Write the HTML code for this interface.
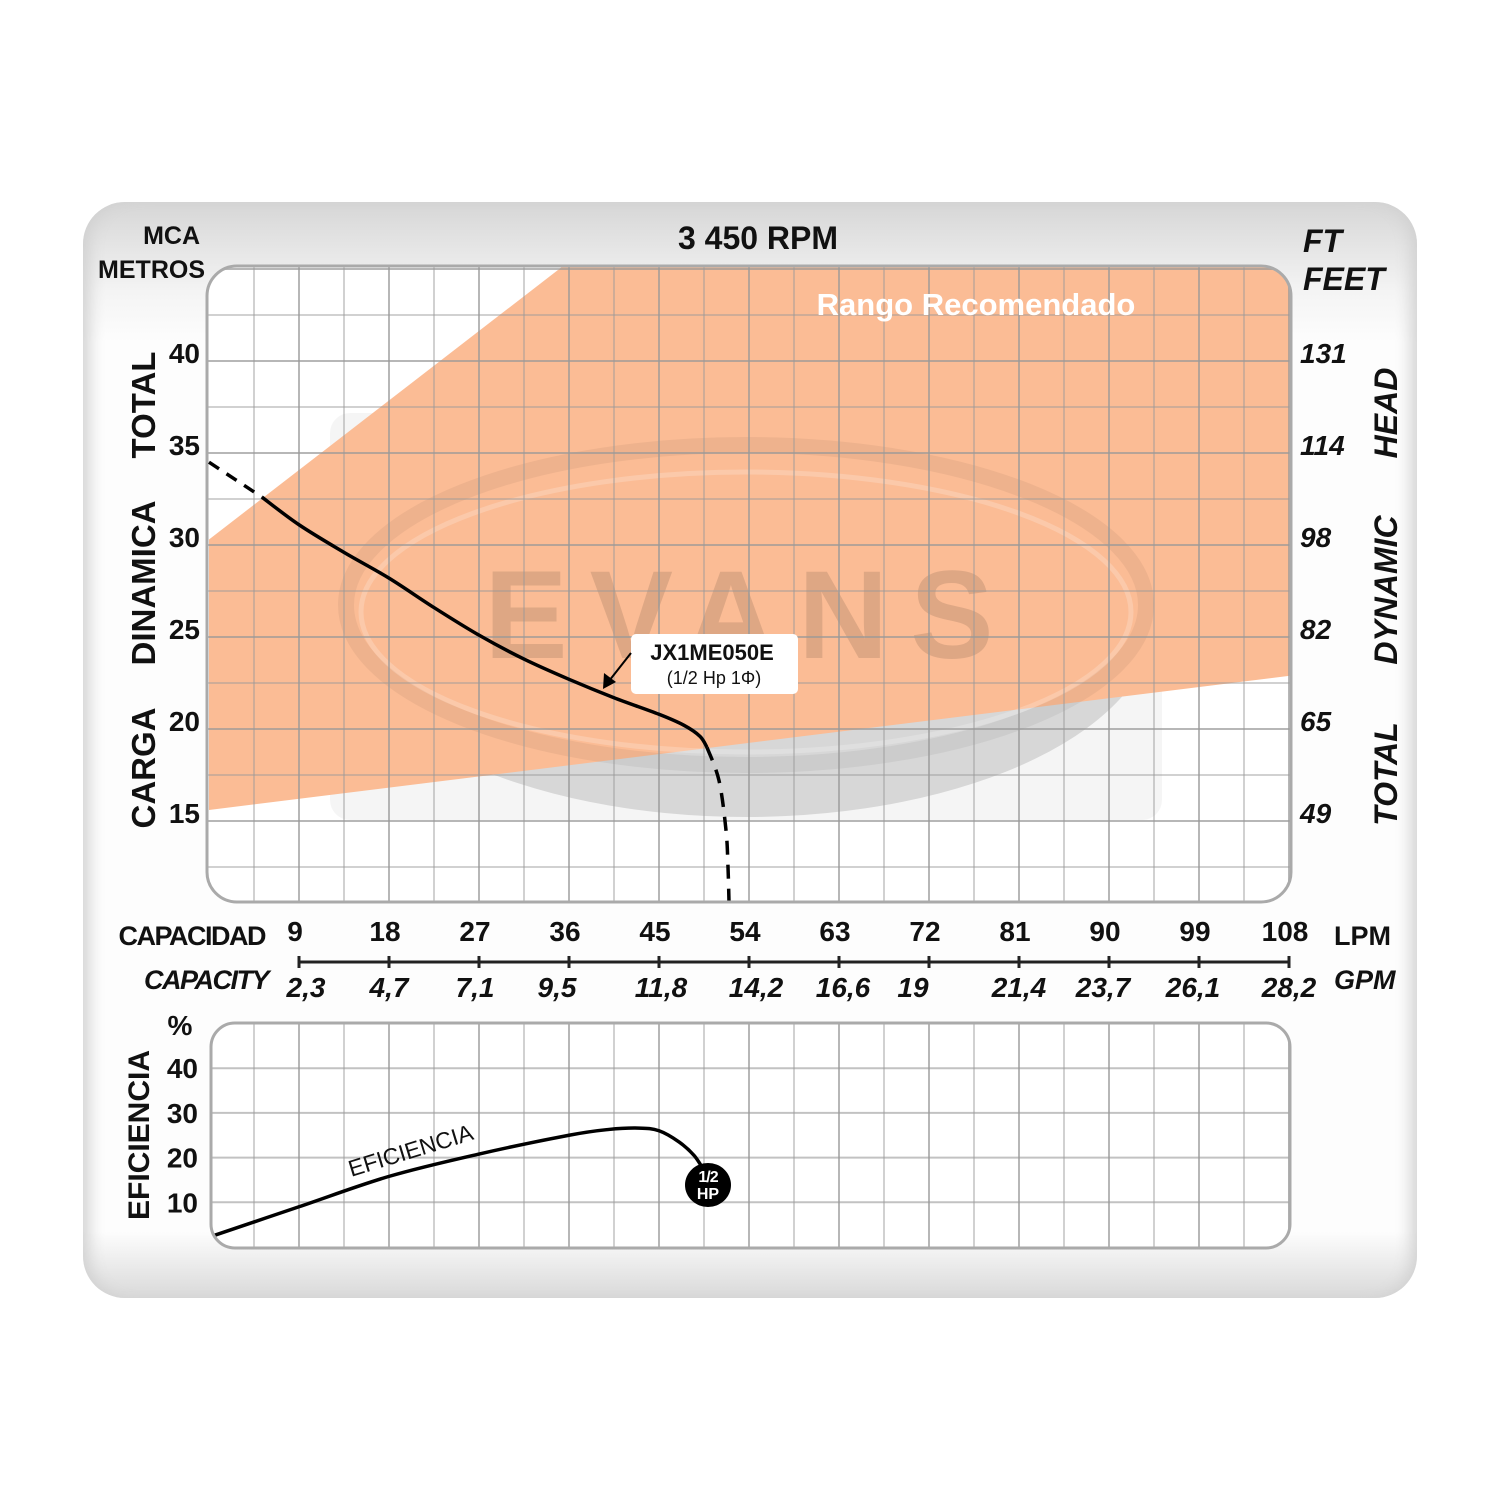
<!DOCTYPE html>
<html><head><meta charset="utf-8">
<style>
html,body{margin:0;padding:0;background:#fff;}
body{width:1500px;height:1500px;position:relative;overflow:hidden;font-family:"Liberation Sans",Arial,sans-serif;}
#panel{position:absolute;left:83px;top:202px;width:1334px;height:1096px;border-radius:42px;background:linear-gradient(#d6d6d6 0px,#f4f4f4 90px,#fdfdfd 140px,#fdfdfd 1030px,#d9d9d9 1096px);box-shadow:inset 14px 0 16px -8px #d0d0d0, inset -14px 0 16px -8px #d0d0d0;}
svg{position:absolute;left:0;top:0;}
text{font-family:"Liberation Sans",Arial,sans-serif;font-weight:bold;fill:#111;}
</style></head>
<body>
<div id="panel"></div>
<svg id="chart" width="1500" height="1500"></svg>
<script>
// ---- data ----
const lpmTicks = [9,18,27,36,45,54,63,72,81,90,99,108];
const gpmTicks = ["2,3","4,7","7,1","9,5","11,8","14,2","16,6","19","21,4","23,7","26,1","28,2"];
const headTicks = [15,20,25,30,35,40];
const feetTicks = ["49","65","82","98","114","131"];
const effTicks = [10,20,30,40];
// head curve (LPM, metres)
const headSolidQ = [5.3,9,13.5,18,22.5,27,31.5,36,40.5,45,47.5,49.1,49.8];
const headSolidH = [32.6,31.1,29.6,28.2,26.6,25.1,23.8,22.7,21.7,20.8,20.2,19.6,19.0];
const headDashStartQ = [0,5.3];
const headDashStartH = [34.5,32.6];
const headDashEndQ = [49.8,51,51.7,51.9,52.0];
const headDashEndH = [19.0,17.2,14.5,12.5,10.6];
// recommended range polygon (LPM, m)
const rangeQ = [0,35.5,108.2,108.2,0];
const rangeH = [30.3,45.2,45.2,22.9,15.6];
// efficiency curve (LPM, %)
const effQ = [0,9,18,27,36,40,43,45,47,48.5,49.4];
const effV = [2.2,9,15.8,20.8,25.0,26.3,26.6,26.0,23.5,20.5,17.5];

// ---- axes ----
const X = q => 209 + q*10;
const Y = m => 361 + (40-m)*18.4;
const YE = p => 1247 - p*4.47;
const NS="http://www.w3.org/2000/svg";
const svg=document.getElementById('chart');
function el(tag,attrs,parent){const e=document.createElementNS(NS,tag);for(const k in attrs)e.setAttribute(k,attrs[k]);(parent||svg).appendChild(e);return e;}
function txt(s,attrs,parent){const e=el('text',attrs,parent);e.textContent=s;return e;}
function smooth(pts){let d=`M${pts[0][0]},${pts[0][1]}`;for(let i=0;i<pts.length-1;i++){const p0=pts[i-1]||pts[i],p1=pts[i],p2=pts[i+1],p3=pts[i+2]||p2;const c1=[p1[0]+(p2[0]-p0[0])/6,p1[1]+(p2[1]-p0[1])/6],c2=[p2[0]-(p3[0]-p1[0])/6,p2[1]-(p3[1]-p1[1])/6];d+=` C${c1[0]},${c1[1]} ${c2[0]},${c2[1]} ${p2[0]},${p2[1]}`;}return d;}

const defs=el('defs',{});
const cp=el('clipPath',{id:'upclip'},defs);
el('rect',{x:207,y:266,width:1084,height:636,rx:30},cp);
const cp2=el('clipPath',{id:'loclip'},defs);
el('rect',{x:211,y:1023,width:1079,height:225,rx:24},cp2);

// upper plot
const up=el('g',{'clip-path':'url(#upclip)'});


el('rect',{x:207,y:266,width:1084,height:636,fill:'#fff'},up);
const wm=el('rect',{x:330,y:413,width:832,height:407,rx:20,fill:'#000','fill-opacity':0.04},up);


el('ellipse',{cx:746,cy:617,rx:410,ry:200,fill:'#000','fill-opacity':0.12},up);
const rp=el('polygon',{points:rangeQ.map((q,i)=>`${X(q)},${Y(rangeH[i])}`).join(' '),fill:'#fbbc95'},up);


el('ellipse',{cx:746,cy:605,rx:400,ry:160,fill:'none',stroke:'#000','stroke-opacity':0.05,'stroke-width':16},up);
el('ellipse',{cx:746,cy:612,rx:385,ry:140,fill:'none',stroke:'#fff','stroke-opacity':0.2,'stroke-width':5},up);
const wt=txt('EVANS',{x:750,y:658,'text-anchor':'middle','font-size':125,fill:'#b06040','fill-opacity':0.12,'letter-spacing':22},up);


for(let q=4.5;q<108.2;q+=4.5){el('line',{x1:X(q),y1:266,x2:X(q),y2:902,stroke:'#999','stroke-opacity':(Math.round(q/4.5)%2===0)?0.7:0.45,'stroke-width':2},up);}
for(let m=10;m<=45;m+=2.5){el('line',{x1:207,y1:Y(m),x2:1291,y2:Y(m),stroke:'#999','stroke-opacity':(m%5===0)?0.7:0.45,'stroke-width':2},up);}
el('rect',{x:207,y:266,width:1084,height:636,rx:30,fill:'none',stroke:'#aaa','stroke-width':3});
const rt=txt('Rango Recomendado',{x:976,y:315,'text-anchor':'middle','font-size':31,style:'fill:#fff'});



// head curve
const hc=el('path',{d:smooth(headSolidQ.map((q,i)=>[X(q),Y(headSolidH[i])])),fill:'none',stroke:'#000','stroke-width':3.5});


const hd1=el('path',{d:smooth(headDashStartQ.map((q,i)=>[X(q),Y(headDashStartH[i])])),fill:'none',stroke:'#000','stroke-width':3.5,'stroke-dasharray':'12 9'});


const hd2=el('path',{d:smooth(headDashEndQ.map((q,i)=>[X(q),Y(headDashEndH[i])])),fill:'none',stroke:'#000','stroke-width':3.5,'stroke-dasharray':'14 10'},up);



// label box
const lb=el('g',{});


el('rect',{x:631,y:634,width:167,height:60,rx:5,fill:'#fff'},lb);
txt('JX1ME050E',{x:712,y:660,'text-anchor':'middle','font-size':22},lb);
txt('(1/2 Hp 1Φ)',{x:714,y:684,'text-anchor':'middle','font-size':18,'font-weight':'normal',style:'font-weight:normal'},lb);
el('line',{x1:631,y1:653,x2:609,y2:681,stroke:'#000','stroke-width':2},lb);
el('polygon',{points:'603,689 604,673 616,682',fill:'#000'},lb);

function lab(s,a,name){const t=txt(s,a);return t;}
lab('MCA',{x:200,y:244,'text-anchor':'end','font-size':25},'mca-label');
lab('METROS',{x:205,y:278,'text-anchor':'end','font-size':25},'metros-label');
lab('3 450 RPM',{x:758,y:249,'text-anchor':'middle','font-size':32},'rpm-title');
lab('FT',{x:1303,y:252,'font-size':32,'font-style':'italic'},'ft-label');
lab('FEET',{x:1303,y:290,'font-size':32,'font-style':'italic'},'feet-label');
// left rotated title words
lab('CARGA',{x:0,y:0,'font-size':33,transform:'translate(155,768) rotate(-90)','text-anchor':'middle'},'y-title-carga');
lab('DINAMICA',{x:0,y:0,'font-size':33,transform:'translate(155,583) rotate(-90)','text-anchor':'middle'},'y-title-dinamica');
lab('TOTAL',{x:0,y:0,'font-size':33,transform:'translate(155,405) rotate(-90)','text-anchor':'middle'},'y-title-total');
lab('TOTAL',{x:0,y:0,'font-size':32,'font-style':'italic',transform:'translate(1397,774) rotate(-90)','text-anchor':'middle'},'y-title-right-total');
lab('DYNAMIC',{x:0,y:0,'font-size':32,'font-style':'italic',transform:'translate(1397,590) rotate(-90)','text-anchor':'middle'},'y-title-right-dynamic');
lab('HEAD',{x:0,y:0,'font-size':32,'font-style':'italic',transform:'translate(1397,413) rotate(-90)','text-anchor':'middle'},'y-title-right-head');
headTicks.forEach((m,i)=>{
  const t=txt(String(m),{x:200,y:Y(m)+2,'text-anchor':'end','font-size':28});
  
  
  const f=txt(feetTicks[i],{x:1300,y:Y(m)+2,'font-size':28,'font-style':'italic'});
  
  
});

// capacity axis
lab('CAPACIDAD',{x:265,y:945,'text-anchor':'end','font-size':27,'letter-spacing':-1.5},'capacidad-label');
lab('CAPACITY',{x:268,y:989,'text-anchor':'end','font-size':27,'font-style':'italic','letter-spacing':-1.5},'capacity-label');
lab('LPM',{x:1334,y:945,'font-size':27},'lpm-label');
lab('GPM',{x:1334,y:989,'font-size':27,'font-style':'italic'},'gpm-label');
el('line',{x1:X(9),y1:962,x2:X(108),y2:962,stroke:'#222','stroke-width':3});
const gpmOff=[7,0,-4,-12,2,7,4,-16,0,-6,-6,0];
lpmTicks.forEach((q,i)=>{
  el('line',{x1:X(q),y1:956,x2:X(q),y2:968,stroke:'#222','stroke-width':3});
  const t=txt(String(q),{x:X(q)-4,y:941,'text-anchor':'middle','font-size':28});
  
  
  const g=txt(gpmTicks[i],{x:X(q)+gpmOff[i],y:997,'text-anchor':'middle','font-size':28,'font-style':'italic'});
  
  
});

// lower efficiency plot
const lo=el('g',{'clip-path':'url(#loclip)'});


el('rect',{x:211,y:1023,width:1079,height:225,fill:'#fff'},lo);
for(let q=4.5;q<108.2;q+=4.5){el('line',{x1:X(q),y1:1023,x2:X(q),y2:1248,stroke:'#999','stroke-opacity':(Math.round(q/4.5)%2===0)?0.7:0.45,'stroke-width':2},lo);}
effTicks.forEach(p=>el('line',{x1:211,y1:YE(p),x2:1290,y2:YE(p),stroke:'#999','stroke-opacity':0.6,'stroke-width':2},lo));
el('rect',{x:211,y:1023,width:1079,height:225,rx:24,fill:'none',stroke:'#aaa','stroke-width':3});
const ec=el('path',{d:smooth(effQ.map((q,i)=>[X(q),YE(effV[i])])),fill:'none',stroke:'#000','stroke-width':3.5},lo);


lab('EFICIENCIA',{x:0,y:0,'font-size':23,'font-weight':'normal',style:'font-weight:normal',transform:'translate(413,1158) rotate(-17)','text-anchor':'middle'},'efficiency-curve-label');
const hp=el('g',{});


el('ellipse',{cx:708,cy:1185,rx:23,ry:22,fill:'#000'},hp);
txt('1/2',{x:708,y:1182,'text-anchor':'middle','font-size':16,style:'fill:#fff','letter-spacing':-1},hp);
txt('HP',{x:708,y:1199,'text-anchor':'middle','font-size':16,style:'fill:#fff'},hp);
lab('%',{x:180,y:1035,'text-anchor':'middle','font-size':28},'percent-label');
lab('EFICIENCIA',{x:0,y:0,'font-size':30,transform:'translate(149,1135) rotate(-90)','text-anchor':'middle'},'efficiency-axis-title');
effTicks.forEach(p=>{const t=txt(String(p),{x:198,y:YE(p)+10,'text-anchor':'end','font-size':28});
  
  });
</script>
</body></html>
